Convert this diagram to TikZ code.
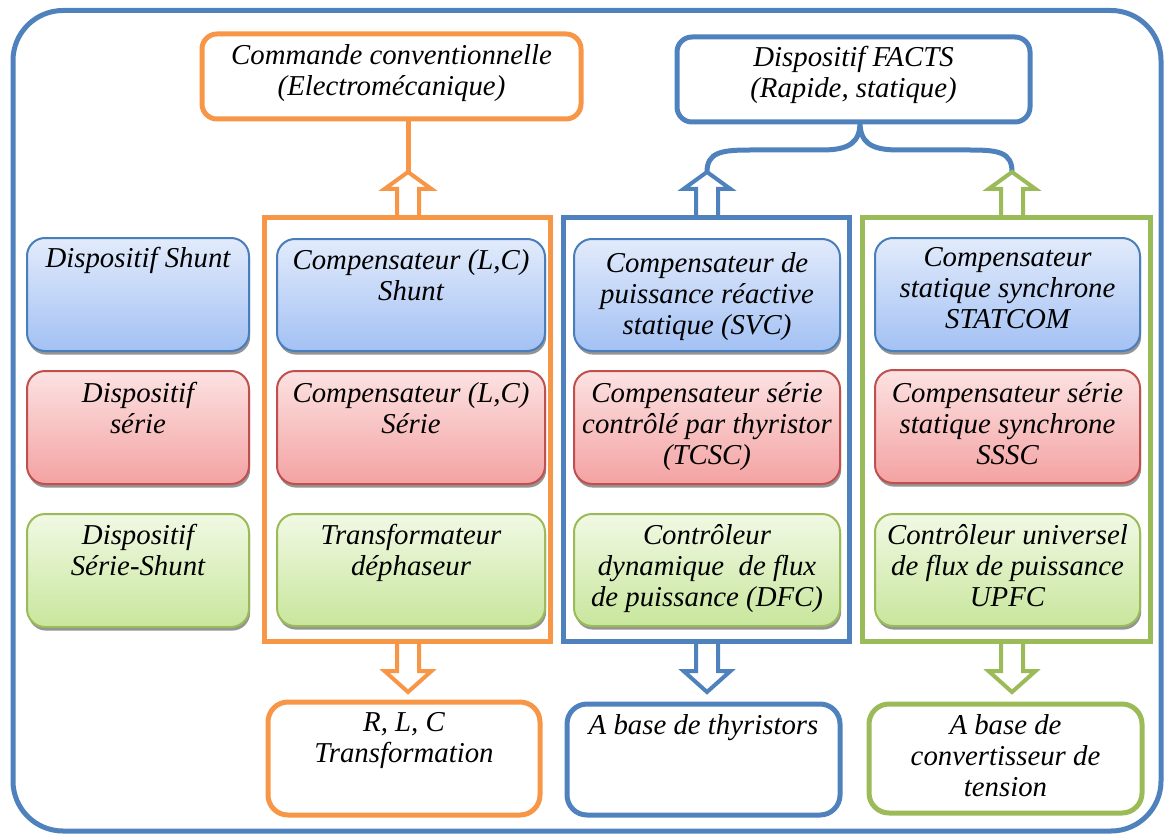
\documentclass[tikz,border=0pt]{standalone}
\usepackage{fontspec}
\setmainfont{Liberation Serif}
\usetikzlibrary{fit,shadows,calc}
\definecolor{cOr}{HTML}{F79646}
\definecolor{cBl}{HTML}{4F81BD}
\definecolor{cGr}{HTML}{9BBB59}
\definecolor{bBd}{HTML}{4A7EBB}
\definecolor{bTop}{HTML}{E2EBFB}
\definecolor{bBot}{HTML}{A3C1F4}
\definecolor{rBd}{HTML}{C0504D}
\definecolor{rTop}{HTML}{FCE2E2}
\definecolor{rBot}{HTML}{F4A2A2}
\definecolor{gBd}{HTML}{9BBB59}
\definecolor{gTop}{HTML}{F1F9E4}
\definecolor{gBot}{HTML}{C8E69C}
\newcommand\hollowUp[3]{\draw[line width=2pt,draw=#1,fill=white,miter limit=10] (#2-11,217) -- (#2-11,#3+17) -- (#2-23.5,#3+17) -- (#2,#3) -- (#2+23.5,#3+17) -- (#2+11,#3+17) -- (#2+11,217);}
\newcommand\hollowDown[2]{\draw[line width=2pt,draw=#1,fill=white,miter limit=10] (#2-11,641) -- (#2-11,671) -- (#2-23.5,671) -- (#2,692) -- (#2+23.5,671) -- (#2+11,671) -- (#2+11,641);}
\begin{document}
\begin{tikzpicture}[x=0.5pt,y=-0.5pt,
  txt/.style={font=\itshape\fontsize{14.4}{15.5}\selectfont, align=center, inner sep=0pt, anchor=north},
  frm/.style={draw=#1, line width=2.5pt, inner sep=0pt},
  topbox/.style={draw=#1, line width=2.5pt, rounded corners=7.5pt, inner sep=0pt},
  botbox/.style={draw=#1, line width=2.5pt, rounded corners=10pt, inner sep=0pt},
  ibox/.style={rounded corners=9pt, line width=1pt, inner sep=0pt,
    drop shadow={shadow xshift=0.6pt, shadow yshift=-1.8pt, fill=black!60, opacity=0.7}},
  bluebox/.style={ibox, draw=bBd, top color=bTop, bottom color=bBot},
  redbox/.style={ibox, draw=rBd, top color=rTop, bottom color=rBot},
  greenbox/.style={ibox, draw=gBd, top color=gTop, bottom color=gBot},
]
\useasboundingbox (0,0) rectangle (1165,834);
% outer frame
\draw[cBl, line width=2.5pt, rounded corners=25pt] (13,10.5) rectangle (1161,831);

% top boxes
\node[topbox=cOr, fit={(202,34) (581,119)}] (cmd) {};
\node[topbox=cBl, fit={(677,37) (1030,122)}] (facts) {};

% connector coordinates
\coordinate (tipO) at (408,172);
\coordinate (tipB) at (707,172);
\coordinate (tipG) at (1012,172);
\coordinate (cusp) at (860,122);

% connectors
\draw[cOr, line width=2.5pt] (cmd.south -| tipO) -- (tipO);
\draw[cBl, line width=2.5pt] (tipB) .. controls (707,152) and (722,150) .. (750,150)
  -- (822,150) .. controls (850,150) and (860,142) .. (cusp)
  .. controls (860,142) and (870,150) .. (898,150)
  -- (970,150) .. controls (998,150) and (1012,152) .. (tipG);

% hollow arrows
\hollowUp{cOr}{408}{172}
\hollowUp{cBl}{707}{172}
\hollowUp{cGr}{1012}{172}
\hollowDown{cOr}{408}
\hollowDown{cBl}{707}
\hollowDown{cGr}{1012}

% frames
\node[frm=cOr, fit={(264,217) (550,641)}] (fO) {};
\node[frm=cBl, fit={(563,217) (849,641)}] (fB) {};
\node[frm=cGr, fit={(862,217) (1150,641)}] (fG) {};

% inner boxes
\node[bluebox, fit={(27,238) (249,351)}] (L1) {};
\node[redbox, fit={(27,371) (249,484)}] (L2) {};
\node[greenbox, fit={(27,514) (249,627)}] (L3) {};
\node[bluebox, fit={(277,239) (545,351)}] (O1) {};
\node[redbox, fit={(277,371) (545,484)}] (O2) {};
\node[greenbox, fit={(277,514) (545,626)}] (O3) {};
\node[bluebox, fit={(574,239) (840,351)}] (B1) {};
\node[redbox, fit={(574,371) (840,484)}] (B2) {};
\node[greenbox, fit={(574,514) (840,626)}] (B3) {};
\node[bluebox, fit={(875,238) (1140,351)}] (G1) {};
\node[redbox, fit={(875,370) (1140,483)}] (G2) {};
\node[greenbox, fit={(875,514) (1140,626)}] (G3) {};

% bottom boxes
\node[botbox=cOr, fit={(268,702) (540,815)}] (bO) {};
\node[botbox=cBl, fit={(567,704) (840,815)}] (bB) {};
\node[botbox=cGr, fit={(869,704) (1142,813)}] (bG) {};

% texts
\node[txt] (cmdT) at (391.5,44) {Commande conventionnelle\\(Electromécanique)};
\node[txt] (factsT) at (853.5,46) {Dispositif FACTS\\(Rapide, statique)};

\node[txt] (L1T) at (138,247) {Dispositif Shunt};
\node[txt] (L2T) at (138,382) {Dispositif\\série};
\node[txt] (L3T) at (138,524) {Dispositif\\Série-Shunt};

\node[txt] (O1T) at (411,249) {Compensateur (L,C)\\Shunt};
\node[txt] (O2T) at (411,382) {Compensateur (L,C)\\Série};
\node[txt] (O3T) at (411,524) {Transformateur\\déphaseur};

\node[txt] (B1T) at (707,252) {Compensateur de\\puissance réactive\\statique (SVC)};
\node[txt] (B2T) at (707,382) {Compensateur série\\contrôlé par thyristor\\(TCSC)};
\node[txt] (B3T) at (707,524) {Contrôleur\\dynamique~ de flux\\de puissance (DFC)};

\node[txt] (G1T) at (1007.5,247) {Compensateur\\statique synchrone\\STATCOM};
\node[txt] (G2T) at (1007.5,382) {Compensateur série\\statique synchrone\\SSSC};
\node[txt] (G3T) at (1007.5,524) {Contrôleur universel\\de flux de puissance\\UPFC};

\node[txt] (bOT) at (404,712) {R, L, C\\Transformation};
\node[txt] (bBT) at (703.5,714) {A base de thyristors};
\node[txt] (bGT) at (1005.5,714) {A base de\\convertisseur de\\tension};
\end{tikzpicture}
\end{document}
